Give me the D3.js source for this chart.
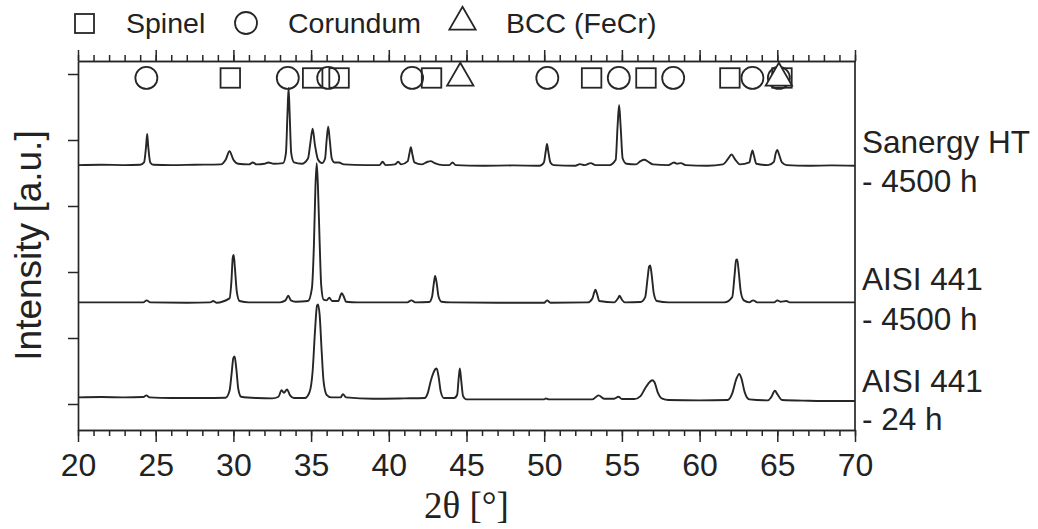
<!DOCTYPE html>
<html>
<head>
<meta charset="utf-8">
<script src="https://cdn.jsdelivr.net/npm/d3@7"></script>
<style>
  body { margin: 0; background: #fff; }
  svg { display: block; }
  text { font-family: "Liberation Sans", Arial, sans-serif; fill: #222; }
</style>
</head>
<body>
<svg id="chart"></svg>
<script>
var width = 1038;
var height = 529;

var margin = {top: 61, right: 183, bottom: 99, left: 78};

// 2theta ticks
var majorTicks = [20, 25, 30, 35, 40, 45, 50, 55, 60, 65, 70];
var minorTicks = d3.range(20, 71, 1);
var yTicks = [0, 100, 200, 300, 400, 500];

// phase reflections marked at the top
var spinelPos = [29.8, 35.1, 36.8, 42.75, 53.05, 56.55, 61.95, 65.3];
var corundumPos = [24.4, 33.5, 36.1, 41.5, 50.2, 54.8, 58.3, 63.4, 65.1];
var bccPos = [44.6, 65.1];
var markerLevel = 494;

var sampleNames = [["Sanergy HT", "- 4500 h"], ["AISI 441", "- 4500 h"], ["AISI 441", "- 24 h"]];

// traces: [2theta, intensity (offset)]
var sanergy4500 = [
  [20, 362], [21.5, 362.5], [23, 362], [24.0, 362.5],
  [24.25, 366], [24.38, 390], [24.45, 409], [24.52, 390], [24.65, 366], [24.85, 362.5],
  [26, 362], [27.5, 362.5], [29.2, 363],
  [29.5, 370], [29.75, 383], [30.0, 370], [30.3, 364],
  [31.0, 363], [31.25, 366], [31.5, 363], [32.0, 364], [32.25, 366], [32.6, 364], [33.2, 365],
  [33.38, 380], [33.48, 440], [33.55, 479], [33.62, 440], [33.72, 380], [33.9, 366],
  [34.4, 364], [34.8, 372], [34.95, 395], [35.1, 417], [35.25, 392], [35.45, 370], [35.7, 365],
  [35.9, 372], [36.0, 400], [36.1, 420], [36.2, 400], [36.33, 372], [36.5, 366], [36.8, 366], [37.1, 363],
  [38.5, 362], [39.4, 362], [39.6, 367], [39.8, 362], [40.4, 363], [40.6, 367], [40.8, 363],
  [41.22, 368], [41.33, 380], [41.42, 389], [41.52, 378], [41.65, 366],
  [42.1, 363], [42.5, 367], [42.7, 368], [42.95, 365], [43.5, 362], [43.9, 362], [44.1, 366], [44.3, 362],
  [46, 361], [48, 361.5], [49.7, 361],
  [49.98, 366], [50.1, 383], [50.18, 394], [50.26, 383], [50.4, 366], [50.6, 362],
  [52.0, 361], [52.3, 363.5], [52.6, 362], [53.0, 365], [53.3, 362], [54.2, 362],
  [54.6, 370], [54.72, 420], [54.82, 453], [54.92, 420], [55.05, 372], [55.3, 364],
  [55.9, 363], [56.2, 368], [56.45, 370], [56.7, 367], [57.0, 363], [58.0, 362],
  [58.35, 366], [58.55, 364], [58.8, 365], [59.1, 362],
  [60.5, 361], [61.5, 363], [61.85, 372], [62.05, 378], [62.3, 370], [62.6, 363],
  [63.2, 366], [63.32, 378], [63.4, 384], [63.5, 376], [63.65, 364],
  [64.4, 362], [64.78, 367], [64.9, 380], [65.0, 385], [65.1, 379], [65.3, 366], [65.6, 362],
  [67, 361], [68.5, 361.5], [70, 361]
];

var aisi4500 = [
  [20, 154], [22, 154], [24.2, 154], [24.42, 157], [24.65, 154], [27, 153.5], [28.5, 154], [28.7, 156], [28.9, 153.5],
  [29.75, 160], [29.87, 185], [29.96, 222], [30.02, 226], [30.1, 205], [30.22, 170], [30.4, 156], [31, 154],
  [33.0, 154], [33.35, 157], [33.53, 164], [33.7, 157], [34.0, 155], [34.8, 156],
  [35.05, 175], [35.18, 240], [35.28, 330], [35.36, 365], [35.44, 330], [35.55, 245], [35.65, 180], [35.8, 158],
  [36.0, 157], [36.17, 161], [36.35, 156], [36.75, 156], [36.9, 165], [36.97, 168], [37.08, 164], [37.25, 155], [38, 154],
  [41.2, 154], [41.45, 157], [41.7, 154], [42.6, 154.5],
  [42.78, 162], [42.9, 183], [42.98, 194], [43.07, 185], [43.2, 163], [43.4, 155], [44, 154],
  [47, 153.5], [50.0, 153.5], [50.18, 157], [50.4, 153.5], [52.8, 154],
  [53.1, 160], [53.22, 169], [53.3, 173], [53.4, 167], [53.55, 156], [54.5, 154],
  [54.75, 160], [54.85, 164], [55.0, 158], [55.2, 154], [56.2, 154.5],
  [56.5, 162], [56.65, 190], [56.75, 208], [56.82, 210], [56.92, 195], [57.05, 168], [57.25, 156], [58, 154], [61.6, 154],
  [62.1, 162], [62.25, 195], [62.35, 218], [62.42, 219], [62.52, 200], [62.65, 170], [62.85, 157], [63.2, 154],
  [63.45, 157], [63.7, 154], [64.8, 154], [65.0, 157], [65.2, 155], [65.6, 156], [65.8, 154], [68, 154], [70, 154]
];

var aisi24 = [
  [20, 10], [21.5, 10.5], [23, 10], [24.2, 10.5], [24.4, 13], [24.6, 10], [26, 9], [28, 9], [29.5, 9.5],
  [29.75, 20], [29.88, 45], [30.0, 70], [30.08, 72], [30.18, 55], [30.32, 22], [30.5, 11],
  [31.5, 9], [32.5, 8.5], [32.9, 11], [33.1, 21], [33.25, 17], [33.45, 22], [33.65, 13], [33.9, 9], [34.6, 9],
  [34.9, 18], [35.1, 50], [35.25, 110], [35.38, 149], [35.45, 151], [35.55, 135], [35.68, 80], [35.8, 35], [36.0, 14],
  [36.3, 10], [36.9, 10], [37.05, 15], [37.25, 10],
  [39, 8], [41, 8.5], [42.3, 9],
  [42.5, 16], [42.7, 35], [42.85, 46], [43.0, 53], [43.08, 54], [43.2, 42], [43.35, 18], [43.55, 9], [44.2, 9],
  [44.4, 14], [44.5, 40], [44.57, 54], [44.65, 38], [44.78, 12], [45, 7],
  [47, 7], [50, 7], [50.1, 8.5], [50.3, 7], [53.1, 7], [53.5, 13], [53.85, 8], [54.5, 8], [54.78, 11], [55.0, 7.5], [55.8, 7.5],
  [56.2, 12], [56.5, 24], [56.7, 31], [56.95, 36], [57.1, 33], [57.3, 18], [57.6, 8], [58, 6],
  [60, 5.5], [61.8, 6], [62.1, 16], [62.35, 37], [62.55, 45.5], [62.7, 38], [62.9, 18], [63.2, 7], [64.4, 5.5],
  [64.6, 10], [64.85, 20], [65.0, 15], [65.3, 6], [67, 5], [69, 4.5], [70, 4.5]
];

var traces = [sanergy4500, aisi4500, aisi24];

var svg = d3.select("#chart")
    .attr("width", width)
    .attr("height", height);

//比例尺
var x = d3.scaleLinear()
    .domain([20, 70])
    .range([margin.left, width - margin.right]);

var y = d3.scaleLinear()
    .domain([-39.4, 519.7])
    .range([height - margin.bottom, margin.top]);

var ink = "#262626";

// axes: major + minor on bottom and top, ticks on left only
function styleAxis(g){
    g.selectAll("path.domain").attr("stroke", ink).attr("stroke-width", 1.7);
    g.selectAll(".tick line").attr("stroke", ink).attr("stroke-width", 1.5);
}

svg.append("g")
    .attr("transform", `translate(0, ${y.range()[0]})`)
    .call(d3.axisBottom(x).tickValues(minorTicks).tickSize(6).tickFormat("").tickSizeOuter(0))
    .call(styleAxis);

svg.append("g")
    .attr("transform", `translate(0, ${y.range()[0]})`)
    .call(d3.axisBottom(x).tickValues(majorTicks).tickSize(12).tickPadding(11).tickSizeOuter(0))
    .call(styleAxis)
    .call(g => g.selectAll(".tick text")
        .attr("font-size", 32)
        .attr("font-family", "Liberation Sans, Arial, sans-serif")
        .attr("fill", "#222"));

svg.append("g")
    .attr("transform", `translate(0, ${y.range()[1]})`)
    .call(d3.axisTop(x).tickValues(minorTicks).tickSize(6).tickFormat("").tickSizeOuter(0))
    .call(styleAxis);

svg.append("g")
    .attr("transform", `translate(0, ${y.range()[1]})`)
    .call(d3.axisTop(x).tickValues(majorTicks).tickSize(11).tickFormat("").tickSizeOuter(0))
    .call(styleAxis);

svg.append("g")
    .attr("transform", `translate(${x.range()[0]}, 0)`)
    .call(d3.axisLeft(y).tickValues(yTicks).tickSize(10).tickFormat("").tickSizeOuter(0))
    .call(styleAxis);

svg.append("line")
    .attr("x1", x.range()[1]).attr("x2", x.range()[1])
    .attr("y1", y.range()[0]).attr("y2", y.range()[1])
    .attr("stroke", ink).attr("stroke-width", 1.7);

// traces
var line = d3.line()
    .x(d => x(d[0]))
    .y(d => y(d[1]))
    .curve(d3.curveMonotoneX);

svg.append("g")
    .attr("fill", "none")
    .attr("stroke", ink)
    .attr("stroke-width", 1.9)
    .attr("stroke-linejoin", "round")
    .selectAll("path")
    .data(traces)
    .join("path")
    .attr("d", d => line(d));

// phase markers
var markers = svg.append("g")
    .attr("stroke", ink)
    .attr("stroke-width", 1.8);

markers.selectAll("rect")
    .data(spinelPos)
    .join("rect")
    .attr("fill", "none")
    .attr("x", d => x(d) - 9.75)
    .attr("y", y(markerLevel) - 9.75)
    .attr("width", 19.5)
    .attr("height", 19.5);

markers.selectAll("circle")
    .data(corundumPos)
    .join("circle")
    .attr("fill", "none")
    .attr("cx", d => x(d))
    .attr("cy", y(markerLevel))
    .attr("r", 11);

var tri = d3.symbol().type(d3.symbolTriangle).size(300);
markers.selectAll("path")
    .data(bccPos)
    .join("path")
    .attr("fill", "#fff")
    .attr("d", tri)
    .attr("transform", d => `translate(${x(d)}, ${y(markerLevel)})`);

// legend
var legend = svg.append("g");
legend.append("rect")
    .attr("x", 75).attr("y", 14).attr("width", 19).attr("height", 19)
    .attr("fill", "none").attr("stroke", ink).attr("stroke-width", 1.8);
legend.append("text").attr("x", 126).attr("y", 33).attr("font-size", 28.5).text("Spinel");
legend.append("circle")
    .attr("cx", 246).attr("cy", 23).attr("r", 11)
    .attr("fill", "none").attr("stroke", ink).attr("stroke-width", 1.8);
legend.append("text").attr("x", 288).attr("y", 33).attr("font-size", 28.5).text("Corundum");
legend.append("path")
    .attr("d", tri)
    .attr("transform", "translate(462.5, 22)")
    .attr("fill", "none").attr("stroke", ink).attr("stroke-width", 1.8);
legend.append("text").attr("x", 506).attr("y", 33).attr("font-size", 28.5).text("BCC (FeCr)");

// sample labels on the right
var labelY = [[152.7, 191.7], [290, 330], [391.7, 430]];
var labels = svg.append("g");
sampleNames.forEach(function(n, i){
    labels.append("text").attr("x", 862).attr("y", labelY[i][0]).attr("font-size", 31.5).text(n[0]);
    labels.append("text").attr("x", 862).attr("y", labelY[i][1]).attr("font-size", 31.5).text(n[1]);
});

// axis titles
svg.append("text")
    .attr("x", (x.range()[0] + x.range()[1]) / 2)
    .attr("y", 518)
    .attr("text-anchor", "middle")
    .attr("font-size", 37)
    .style("font-family", "'Liberation Serif', 'Times New Roman', serif")
    .text("2θ [°]");

svg.append("text")
    .attr("transform", `translate(41, ${(y.range()[0] + y.range()[1]) / 2}) rotate(-90)`)
    .attr("text-anchor", "middle")
    .attr("font-size", 37)
    .text("Intensity [a.u.]");
</script>
</body>
</html>
